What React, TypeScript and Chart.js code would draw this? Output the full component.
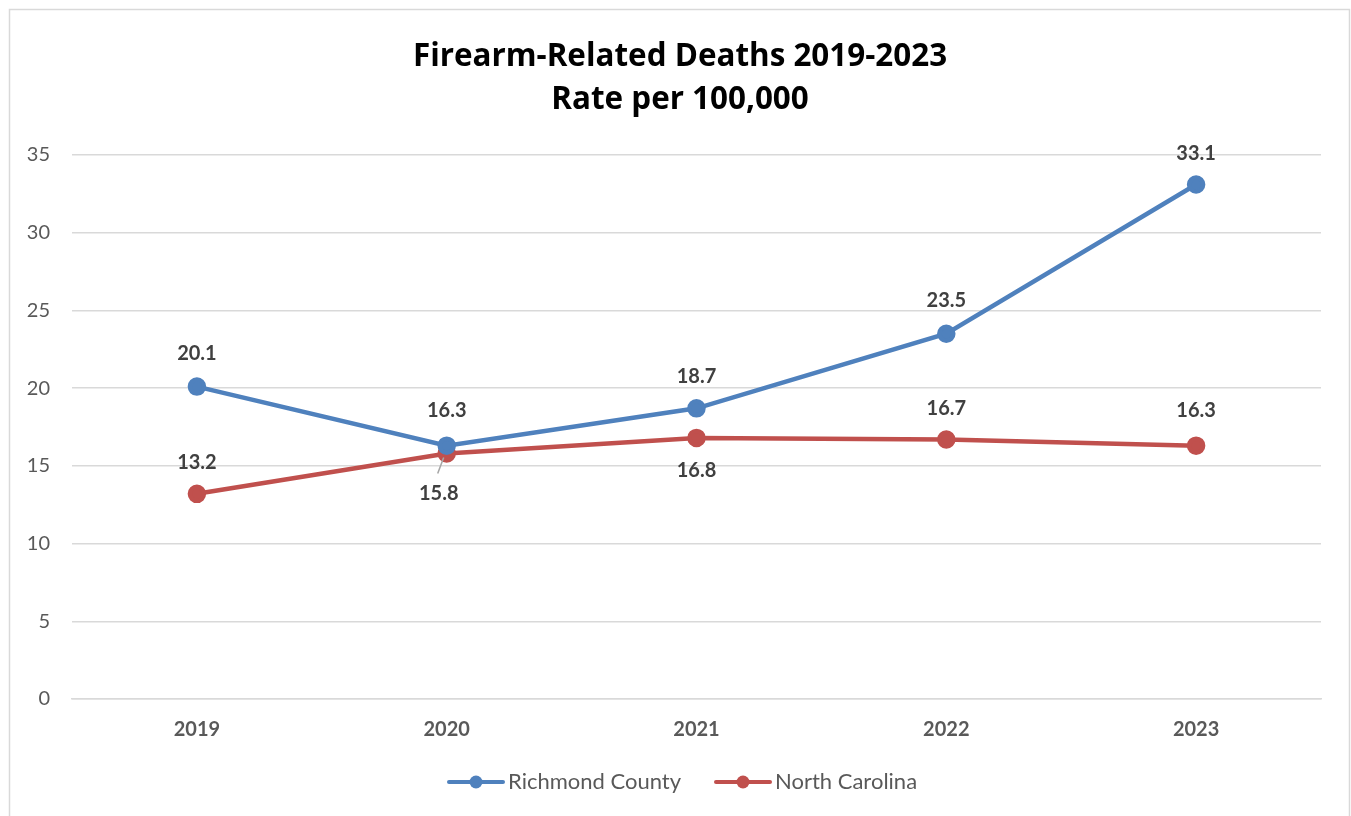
import React, { useEffect, useRef } from "react";
import { Chart, registerables } from "chart.js";

Chart.register(...registerables);

const categories = ["2019", "2020", "2021", "2022", "2023"];
const richmondValues = [20.1, 16.3, 18.7, 23.5, 33.1];
const ncValues = [13.2, 15.8, 16.8, 16.7, 16.3];
const seriesNames = ["Richmond County", "North Carolina"];
const titleLines = ["Firearm-Related Deaths 2019-2023", "Rate per 100,000"];

const BLUE = "#4F81BD";
const RED = "#C0504D";
const FONT = "Lato, 'Open Sans', sans-serif";
const TITLE_FONT = "'Open Sans', Lato, sans-serif";

// label offsets (style): [dx, dy] per point
const labelOffsets = [
  [[0, -33], [0, -35], [0, -32], [0, -33], [0, -31]],
  [[0, -31], [-8, 40], [0, 33], [0, -31], [0, -35]],
];

const decorPlugin = {
  id: "decor",
  beforeDraw(chart: any) {
    const ctx = chart.ctx;
    ctx.save();
    ctx.fillStyle = "#ffffff";
    ctx.fillRect(0, 0, chart.width, chart.height);
    ctx.strokeStyle = "#D9D9D9";
    ctx.lineWidth = 1.5;
    ctx.strokeRect(9.5, 9.5, 1340, 900);
    ctx.restore();
  },
  afterDraw(chart: any) {
    const ctx = chart.ctx;
    ctx.save();
    // title, sized to match the reference line width
    ctx.font = `bold 28px ${TITLE_FONT}`;
    const w0 = ctx.measureText(titleLines[0]).width;
    const size = Math.min(34, Math.max(20, (28 * 534) / w0));
    ctx.fillStyle = "#000000";
    ctx.font = `bold ${size.toFixed(1)}px ${TITLE_FONT}`;
    ctx.textAlign = "center";
    ctx.textBaseline = "middle";
    ctx.fillText(titleLines[0], 680, 57);
    ctx.fillText(titleLines[1], 680, 100);

    // data labels
    ctx.font = `bold 20px ${FONT}`;
    ctx.fillStyle = "#404040";
    chart.data.datasets.forEach((ds: any, di: number) => {
      const meta = chart.getDatasetMeta(di);
      meta.data.forEach((pt: any, i: number) => {
        const [dx, dy] = labelOffsets[di][i];
        const v = ds.data[i];
        ctx.fillText(v.toFixed(1), pt.x + dx, pt.y + dy);
        if (di === 1 && i === 1) {
          ctx.strokeStyle = "#A6A6A6";
          ctx.lineWidth = 1.5;
          ctx.beginPath();
          ctx.moveTo(pt.x - 3, pt.y + 4);
          ctx.lineTo(pt.x - 9, pt.y + 20);
          ctx.stroke();
        }
      });
    });

    // legend
    const items = [
      { x: 449, color: BLUE, label: chart.data.datasets[0].label },
      { x: 716, color: RED, label: chart.data.datasets[1].label },
    ];
    const ly = 782;
    ctx.font = `22px ${FONT}`;
    ctx.textAlign = "left";
    items.forEach((it) => {
      ctx.strokeStyle = it.color;
      ctx.lineWidth = 4;
      ctx.lineCap = "round";
      ctx.beginPath();
      ctx.moveTo(it.x, ly);
      ctx.lineTo(it.x + 54, ly);
      ctx.stroke();
      ctx.fillStyle = it.color;
      ctx.beginPath();
      ctx.arc(it.x + 27, ly, 6.5, 0, Math.PI * 2);
      ctx.fill();
      ctx.fillStyle = "#595959";
      ctx.fillText(it.label, it.x + 59, ly);
    });
    ctx.restore();
  },
};

export default function App() {
  const ref = useRef<HTMLCanvasElement | null>(null);
  useEffect(() => {
    if (!ref.current) return;
    const chart = new Chart(ref.current, {
      type: "line",
      data: {
        labels: categories,
        datasets: [
          {
            label: seriesNames[0],
            data: richmondValues,
            borderColor: BLUE,
            backgroundColor: BLUE,
            borderWidth: 4.5,
            pointRadius: 7,
            pointBackgroundColor: BLUE,
            pointBorderColor: BLUE,
            tension: 0,
          },
          {
            label: seriesNames[1],
            data: ncValues,
            borderColor: RED,
            backgroundColor: RED,
            borderWidth: 4.5,
            pointRadius: 7,
            pointBackgroundColor: RED,
            pointBorderColor: RED,
            tension: 0,
          },
        ],
      },
      options: {
        animation: false,
        responsive: false,
        maintainAspectRatio: false,
        layout: { padding: { left: 0, right: 30, top: 155, bottom: 67 } },
        plugins: {
          legend: { display: false },
          title: { display: false },
          tooltip: { enabled: false },
        },
        scales: {
          x: {
            offset: true,
            grid: { display: false, drawTicks: false },
            border: { display: true, color: "#D9D9D9", width: 1.5 },
            ticks: {
              color: "#595959",
              font: { family: FONT, size: 20, weight: "bold" },
              padding: 19,
            },
            afterFit: (s: any) => {
              s.height = 50;
            },
          },
          y: {
            min: 0,
            max: 35,
            grid: { color: "#D9D9D9", lineWidth: 1.5, drawTicks: false },
            border: { display: false },
            ticks: {
              stepSize: 5,
              color: "#595959",
              font: { family: FONT, size: 20 },
              padding: 22,
            },
            afterFit: (s: any) => {
              s.width = 72;
            },
          },
        },
      },
      plugins: [decorPlugin],
    });
    return () => chart.destroy();
  }, []);
  return (
    <div style={{ position: "absolute", left: 0, top: 0, width: 1351, height: 816 }}>
      <canvas ref={ref} width={1351} height={816} style={{ width: 1351, height: 816, display: "block" }} />
    </div>
  );
}
